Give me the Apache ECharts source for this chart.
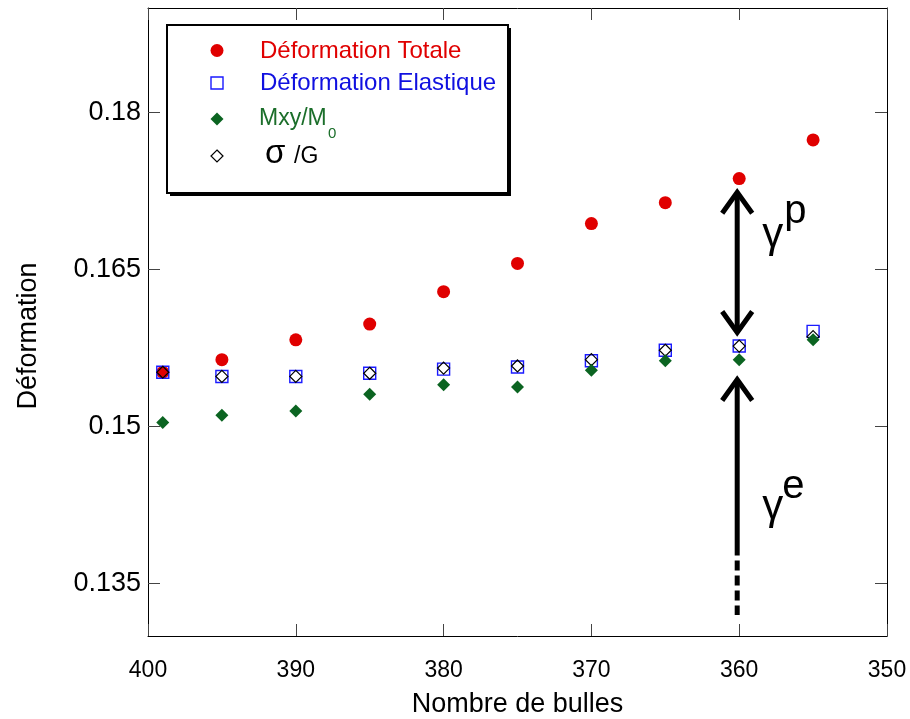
<!DOCTYPE html>
<html><head><meta charset="utf-8">
<script src="https://cdn.jsdelivr.net/npm/echarts@6/dist/echarts.min.js"></script>
<style>html,body{margin:0;padding:0;background:#fff}#c{width:910px;height:719px}</style>
</head><body><div id="c"></div>
<script>
// ---- data ----
const bubbles       = [399, 395, 390, 385, 380, 375, 370, 365, 360, 355];
const totalStrain   = [0.1552, 0.1564, 0.1583, 0.1598, 0.1629, 0.1656, 0.1694, 0.1714, 0.1737, 0.1774];
const elasticStrain = [0.1552, 0.1548, 0.1548, 0.1551, 0.1555, 0.1557, 0.1563, 0.1573, 0.1577, 0.1591];
const mxyOverM0     = [0.1504, 0.1511, 0.1515, 0.1531, 0.1540, 0.1538, 0.1554, 0.1563, 0.1564, 0.1583];
const sigmaOverG    = [0.1552, 0.1548, 0.1548, 0.1551, 0.1556, 0.1558, 0.1564, 0.1573, 0.1577, 0.1586];
const yTicks = [0.135, 0.15, 0.165, 0.18];
// annotation arrows (data space): plastic part and elastic part at N = 360
const arrowAt = 360;
const plasticArrow = [0.1724, 0.1590];
const elasticArrow = [0.1545, 0.1377, 0.1320];

const FONT = 'Liberation Sans';
function pairs(ys) { return bubbles.map((x, i) => [x, ys[i]]); }

const chart = echarts.init(document.getElementById('c'), null, {renderer: 'canvas'});

const axisLine = {show: true, lineStyle: {color: '#000', width: 1}};
const tick = {show: true, inside: true, length: 12, lineStyle: {color: '#444', width: 1}};

function chevron(x, y, dir) {
  // dir = 1: pointing up (tip at y), -1: pointing down
  return {
    type: 'polyline',
    shape: {points: [[x - 15, y + dir * 21], [x, y], [x + 15, y + dir * 21]]},
    style: {stroke: '#000', lineWidth: 5, fill: null, lineJoin: 'miter'}
  };
}

const option = {
  backgroundColor: '#fff',
  animation: false,
  grid: {left: 148, right: 23, top: 8, bottom: 83, containLabel: false, outerBoundsMode: 'none'},
  xAxis: [{
    type: 'value', min: 350, max: 400, interval: 10, inverse: true,
    name: 'Nombre de bulles', nameLocation: 'middle', nameGap: 55,
    nameTextStyle: {fontFamily: FONT, fontSize: 27, color: '#000'},
    axisLine: axisLine, axisTick: tick,
    axisLabel: {fontFamily: FONT, fontSize: 23, color: '#000', margin: 23},
    splitLine: {show: false}
  }, {
    type: 'value', position: 'top', min: 350, max: 400, interval: 10, inverse: true,
    axisLine: axisLine, axisTick: tick, axisLabel: {show: false}, splitLine: {show: false}
  }],
  yAxis: [{
    type: 'value', min: 0.13, max: 0.19,
    name: 'Déformation', nameLocation: 'middle', nameGap: 106, nameRotate: 90,
    nameTextStyle: {fontFamily: FONT, fontSize: 27, color: '#000', padding: [0, 28, 0, 0]},
    axisLine: axisLine,
    axisTick: Object.assign({}, tick, {customValues: yTicks}),
    axisLabel: {customValues: yTicks, fontFamily: FONT, fontSize: 27, color: '#000', margin: 7,
      formatter: v => String(+v.toFixed(3))},
    splitLine: {show: false}
  }, {
    type: 'value', position: 'right', min: 0.13, max: 0.19,
    axisLine: axisLine,
    axisTick: Object.assign({}, tick, {customValues: yTicks}),
    axisLabel: {show: false}, splitLine: {show: false}
  }],
  series: [{
    name: 'Déformation Totale', type: 'scatter', data: pairs(totalStrain),
    symbol: 'circle', symbolSize: 13, silent: true,
    itemStyle: {color: '#e00000', opacity: 1}
  }, {
    name: 'Déformation Elastique', type: 'scatter', data: pairs(elasticStrain),
    symbol: 'rect', symbolSize: 12, silent: true,
    itemStyle: {color: 'rgba(0,0,0,0)', borderColor: '#1a1aff', borderWidth: 1.4, opacity: 1}
  }, {
    name: 'σ /G', type: 'scatter', data: pairs(sigmaOverG),
    symbol: 'diamond', symbolSize: 12, silent: true,
    itemStyle: {color: 'rgba(0,0,0,0)', borderColor: '#000', borderWidth: 1.2, opacity: 1}
  }, {
    name: 'Mxy/M0', type: 'scatter', data: pairs(mxyOverM0),
    symbol: 'diamond', symbolSize: 13, silent: true,
    itemStyle: {color: '#0b6421', opacity: 1}
  }, {
    type: 'custom', silent: true, z: 6, clip: false,
    data: [[arrowAt, plasticArrow[0]]],
    renderItem: function (params, api) {
      const pTop = api.coord([arrowAt, plasticArrow[0]]);
      const pBot = api.coord([arrowAt, plasticArrow[1]]);
      const eTip = api.coord([arrowAt, elasticArrow[0]]);
      const eSol = api.coord([arrowAt, elasticArrow[1]]);
      const eEnd = api.coord([arrowAt, elasticArrow[2]]);
      const x = pTop[0] - 2;
      return {
        type: 'group',
        children: [
          {type: 'line', shape: {x1: x, y1: pTop[1] + 2, x2: x, y2: pBot[1] - 2},
           style: {stroke: '#000', lineWidth: 5}},
          chevron(x, pTop[1], 1),
          chevron(x, pBot[1], -1),
          {type: 'line', shape: {x1: x, y1: eTip[1] + 2, x2: x, y2: eSol[1]},
           style: {stroke: '#000', lineWidth: 5}},
          chevron(x, eTip[1], 1),
          {type: 'line', shape: {x1: x, y1: eSol[1] + 5, x2: x, y2: eEnd[1]},
           style: {stroke: '#000', lineWidth: 5, lineDash: [10, 5]}},
          {type: 'text', x: x + 25, y: pTop[1] + 43,
           style: {text: 'γ', font: '42px "Liberation Sans"', fill: '#000', verticalAlign: 'middle', align: 'left'}},
          {type: 'text', x: x + 47, y: pTop[1] + 20,
           style: {text: 'p', font: '40px "Liberation Sans"', fill: '#000', verticalAlign: 'middle', align: 'left'}},
          {type: 'text', x: x + 25, y: eTip[1] + 128,
           style: {text: 'γ', font: '42px "Liberation Sans"', fill: '#000', verticalAlign: 'middle', align: 'left'}},
          {type: 'text', x: x + 45, y: eTip[1] + 107,
           style: {text: 'e', font: '40px "Liberation Sans"', fill: '#000', verticalAlign: 'middle', align: 'left'}}
        ]
      };
    }
  }],
  graphic: [
    {type: 'rect', z: 100, shape: {x: 170, y: 28, width: 341, height: 168}, style: {fill: '#000'}},
    {type: 'rect', z: 101, shape: {x: 167, y: 25, width: 341, height: 168},
     style: {fill: '#fff', stroke: '#000', lineWidth: 2}},
    {type: 'circle', z: 102, shape: {cx: 217, cy: 50.5, r: 6.5}, style: {fill: '#e00000'}},
    {type: 'rect', z: 102, shape: {x: 211, y: 77, width: 12, height: 12},
     style: {fill: null, stroke: '#1a1aff', lineWidth: 1.4}},
    {type: 'polygon', z: 102, shape: {points: [[217, 112.5], [223.5, 119], [217, 125.5], [210.5, 119]]},
     style: {fill: '#0b6421'}},
    {type: 'polygon', z: 102, shape: {points: [[217, 150], [223, 156], [217, 162], [211, 156]]},
     style: {fill: null, stroke: '#000', lineWidth: 1.2}},
    {type: 'text', z: 102, x: 260, y: 51, style: {text: 'Déformation Totale', font: '24px "Liberation Sans"', fill: '#e00000', verticalAlign: 'middle'}},
    {type: 'text', z: 102, x: 260, y: 83, style: {text: 'Déformation Elastique', font: '24px "Liberation Sans"', fill: '#1010e0', verticalAlign: 'middle'}},
    {type: 'text', z: 102, x: 259, y: 119, style: {text: 'Mxy/M', font: '23px "Liberation Sans"', fill: '#1b6e2a', verticalAlign: 'middle'}},
    {type: 'text', z: 102, x: 328, y: 134, style: {text: '0', font: '15px "Liberation Sans"', fill: '#1b6e2a', verticalAlign: 'middle'}},
    {type: 'text', z: 102, x: 265, y: 154, style: {text: 'σ', font: '33px "Liberation Sans"', fill: '#000', verticalAlign: 'middle'}},
    {type: 'text', z: 102, x: 294, y: 157, style: {text: '/G', font: '23px "Liberation Sans"', fill: '#000', verticalAlign: 'middle'}}
  ]
};
chart.setOption(option);
</script>
</body></html>
